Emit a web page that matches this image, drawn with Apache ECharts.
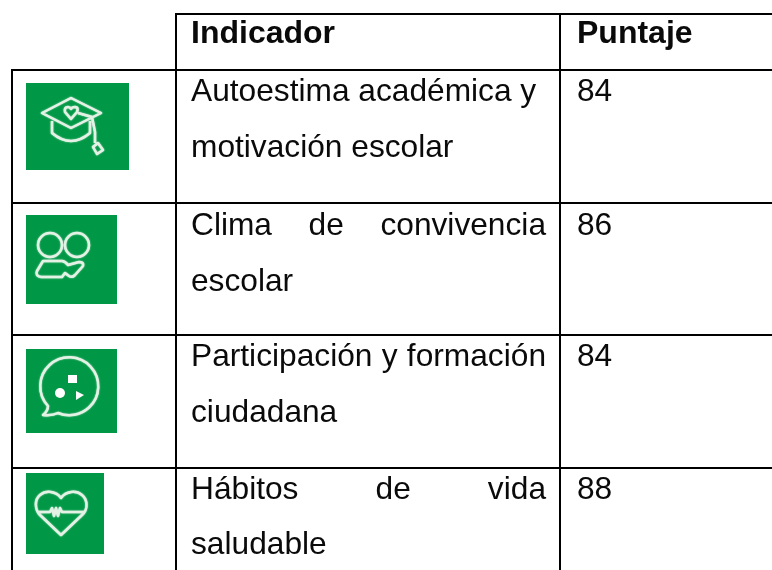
<!DOCTYPE html>
<html><head><meta charset="utf-8">
<style>html,body{margin:0;padding:0;background:#fff}#c{width:772px;height:570px}</style>
<script src="https://cdn.jsdelivr.net/npm/echarts@6/dist/echarts.min.js"></script>
</head><body><div id="c"></div>
<script>
const headers = ['Indicador', 'Puntaje'];
const indicatorLines = [
  ['Autoestima académica y', 'motivación escolar'],
  ['Clima de convivencia', 'escolar'],
  ['Participación y formación', 'ciudadana'],
  ['Hábitos de vida', 'saludable']
];
const justifiedFirstLine = [false, true, true, true];
const scores = [84, 86, 84, 88];

const FONT = '"Liberation Sans", Arial, sans-serif';
const REG = 31.7, BOLD = 32;
const GREEN = '#009846', INK = '#0a0a0a';
const lineBase = [[103, 159], [237, 293], [368, 424], [501, 556]];
const headerBase = 45;
const xName = 191, xScore = 577, nameRight = 546;
const ASC = 27;

const ctx = document.createElement('canvas').getContext('2d');
ctx.font = REG + 'px "Liberation Sans"';

function text(x, base, t, bold) {
  return { type: 'text', x, y: base - ASC, silent: true, z: 5,
    style: { text: String(t), fill: INK, font: (bold ? 'bold ' + BOLD : REG) + 'px ' + FONT,
      textAlign: 'left', textVerticalAlign: 'top' } };
}
function hline(x1, x2, y) { return { type: 'line', z: 3, silent: true, shape: { x1, y1: y, x2, y2: y }, style: { stroke: '#000', lineWidth: 2 } }; }
function vline(x, y1, y2) { return { type: 'line', z: 3, silent: true, shape: { x1: x, y1, x2: x, y2 }, style: { stroke: '#000', lineWidth: 2 } }; }

const els = [];
els.push(hline(176, 772, 14), hline(11, 772, 70), hline(11, 772, 203), hline(11, 772, 335), hline(11, 772, 468));
els.push(vline(12, 69, 570), vline(176, 13, 570), vline(560, 13, 570));
els.push(text(xName, headerBase, headers[0], true), text(xScore, headerBase, headers[1], true));
indicatorLines.forEach((lines, i) => {
  lines.forEach((ln, j) => {
    const base = lineBase[i][j];
    if (j === 0 && justifiedFirstLine[i]) {
      const words = ln.split(' ');
      const w = words.map(s => ctx.measureText(s).width);
      const gap = (nameRight - xName - w.reduce((a, b) => a + b, 0)) / (words.length - 1);
      let x = xName;
      words.forEach((s, k) => { els.push(text(x, base, s, false)); x += w[k] + gap; });
    } else {
      els.push(text(xName, base, ln, false));
    }
  });
  els.push(text(xScore, lineBase[i][0], scores[i], false));
});
[[26, 83, 103, 87], [26, 215, 91, 89], [26, 349, 91, 84], [26, 473, 78, 81]].forEach(r => {
  els.push({ type: 'rect', z: 1, silent: true, shape: { x: r[0], y: r[1], width: r[2], height: r[3] }, style: { fill: GREEN } });
});
const glyphs = [
  'M42 113 L71 98 L101 113 L71 128 Z M52 121 L52 133 Q71 149 90 133 L90 121 M78 113 L92 117 L95 132 L95 143 M98 143 L103 150 L97 154 L93 147 Z M71 119 L65 112 Q64 107 68 107 Q70 107 71 109 Q72 107 75 107 Q79 107 77 112 Z',
  'M62 245 A12 12 0 1 1 38 245 A12 12 0 1 1 62 245 Z M89 245 A12 12 0 1 1 65 245 A12 12 0 1 1 89 245 Z M43 261 L62 261 Q65 261 68 265 L79 262 Q84 262 83 266 L75 275 Q72 278 69 276 L65 273 L62 277 L41 277 Q35 276 37 271 Z',
  'M48 406 A29 29 0 1 1 58 413 Q52 416 43 415 Q48 411 48 406 Z',
  'M61 498 C56 491 46 490 40 495 C34 500 35 510 40 515 L61 535 L82 515 C88 510 88 500 82 495 C76 490 66 491 61 498 Z M37 512 L50 512 L52 508 L54 516 L56 508 L58 516 L60 508 L62 512 L85 512'
];
glyphs.forEach((d, i) => {
  const name = 'iconGlyph' + i;
  echarts.graphic.registerShape(name, echarts.graphic.extendPath(d, {}));
  els.push({ type: name, z: 2, silent: true,
    style: { fill: 'none', stroke: '#e4f2e6', lineWidth: 2.5, lineJoin: 'round', shadowBlur: 1.5, shadowColor: '#e4f2e6' } });
});
els.push({ type: 'circle', z: 2, silent: true, shape: { cx: 60, cy: 393, r: 5 }, style: { fill: '#fff' } });
els.push({ type: 'rect', z: 2, silent: true, shape: { x: 68, y: 375, width: 9, height: 8 }, style: { fill: '#fff' } });
els.push({ type: 'polygon', z: 2, silent: true, shape: { points: [[76, 391], [76, 400], [84, 395]] }, style: { fill: '#fff' } });

const chart = echarts.init(document.getElementById('c'), null, { renderer: 'canvas', width: 772, height: 570 });
chart.setOption({ animation: false, backgroundColor: '#fff', graphic: { elements: els } });
</script></body></html>
